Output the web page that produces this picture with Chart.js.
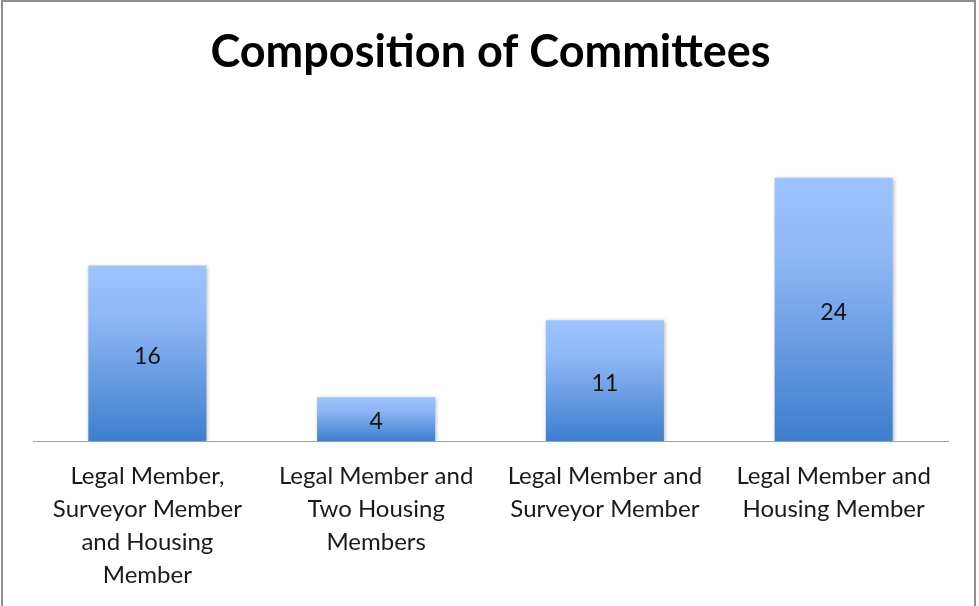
<!DOCTYPE html>
<html>
<head>
<meta charset="utf-8">
<title>Composition of Committees</title>
<script src="https://cdn.jsdelivr.net/npm/chart.js@4.4.1/dist/chart.umd.min.js"></script>
<style>
    html, body { margin: 0; padding: 0; background: #fff; }
    #wrap { position: relative; width: 979px; height: 606px; overflow: hidden; }
    #frame {
        position: absolute; left: 1px; top: 0px; width: 971px; height: 640px;
        border: 2px solid #8e8e8e; pointer-events: none;
    }
</style>
</head>
<body>
<div id="wrap">
    <canvas id="committeeChart" width="979" height="606"></canvas>
    <div id="frame"></div>
</div>
<script>
// Committee types (wrapped for the axis) and how many of each
const categories = [
    ['Legal Member,', 'Surveyor Member', 'and Housing', 'Member'],
    ['Legal Member and', 'Two Housing', 'Members'],
    ['Legal Member and', 'Surveyor Member'],
    ['Legal Member and', 'Housing Member']
];
const committeeCounts = [16, 4, 11, 24];

const FONT = 'Lato, "Open Sans", sans-serif';

// Vertical gradient per bar, light at the top and deeper blue at the base
function barGradient(context) {
    const chart = context.chart;
    const area = chart.chartArea;
    if (!area) return '#6fa0e6';
    const yScale = chart.scales.y;
    const top = yScale.getPixelForValue(context.raw);
    const bottom = yScale.getPixelForValue(0);
    const g = chart.ctx.createLinearGradient(0, top, 0, bottom);
    g.addColorStop(0, '#9ec4ff');
    g.addColorStop(0.3, '#8fb7f6');
    g.addColorStop(1, '#3d7ecd');
    return g;
}

// Soft drop shadow under the bars
const barShadow = {
    id: 'barShadow',
    beforeDatasetsDraw(chart) {
        const ctx = chart.ctx;
        ctx.save();
        ctx.shadowColor = 'rgba(0, 0, 0, 0.28)';
        ctx.shadowBlur = 4;
        ctx.shadowOffsetX = 1;
        ctx.shadowOffsetY = 1;
    },
    afterDatasetsDraw(chart) {
        chart.ctx.restore();
    }
};

// Value printed in the middle of each bar
const barValues = {
    id: 'barValues',
    afterDatasetsDraw(chart) {
        const ctx = chart.ctx;
        const meta = chart.getDatasetMeta(0);
        ctx.save();
        ctx.font = '23px ' + FONT;
        ctx.fillStyle = '#111';
        ctx.textAlign = 'center';
        ctx.textBaseline = 'middle';
        meta.data.forEach((bar, i) => {
            const mid = (bar.y + bar.base) / 2;
            ctx.fillText(String(committeeCounts[i]), bar.x, mid + 3);
        });
        ctx.restore();
    }
};

new Chart(document.getElementById('committeeChart').getContext('2d'), {
    type: 'bar',
    data: {
        labels: categories,
        datasets: [{
            label: 'Committees',
            data: committeeCounts,
            backgroundColor: barGradient,
            borderWidth: 0,
            barPercentage: 0.516,
            categoryPercentage: 1.0
        }]
    },
    options: {
        responsive: false,
        animation: false,
        layout: {
            padding: { left: 33, right: 31, top: 0, bottom: 0 }
        },
        scales: {
            y: {
                display: false,
                min: 0,
                max: 30
            },
            x: {
                grid: { display: false, drawTicks: false },
                border: { display: true, color: '#a0a0a0', width: 1 },
                ticks: {
                    color: '#1a1a1a',
                    padding: 19,
                    maxRotation: 0,
                    autoSkip: false,
                    font: { family: FONT, size: 24, lineHeight: 1.375 }
                },
                // fixed band for the wrapped category names
                afterFit(scale) {
                    scale.height = 165;
                }
            }
        },
        plugins: {
            legend: { display: false },
            tooltip: { enabled: false },
            title: {
                display: true,
                text: 'Composition of Committees',
                color: '#000',
                font: { family: FONT, size: 45, weight: 'bold', lineHeight: 1.2 },
                padding: { top: 25, bottom: 33 }
            }
        }
    },
    plugins: [barShadow, barValues]
});
</script>
</body>
</html>
